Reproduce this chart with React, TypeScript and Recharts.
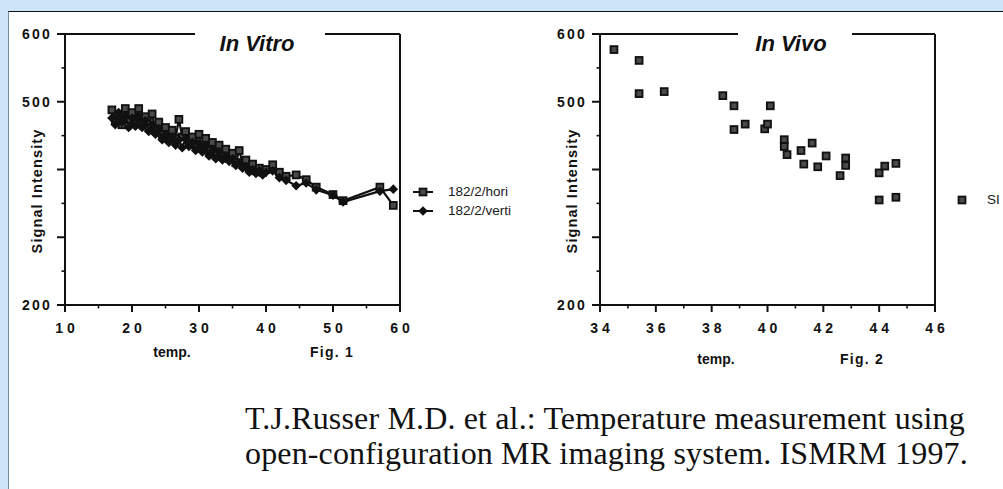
import React from "react";
import {
	Legend,
	ReferenceLine,
	Scatter,
	ScatterChart,
	XAxis,
	YAxis,
} from "recharts";

// Fig. 1 – in vitro, two probe orientations
const vitroTemps = [
	17, 17.5, 18, 18.5, 19, 19.5, 20, 20.5, 21, 21.5, 22, 22.5, 23, 23.5, 24,
	24.5, 25, 25.5, 26, 26.5, 27, 27.5, 28, 28.5, 29, 29.5, 30, 30.5, 31, 31.5,
	32, 32.5, 33, 33.5, 34, 34.5, 35, 35.5, 36, 36.5, 37, 37.5, 38, 38.5, 39,
	39.5, 40, 41, 42, 43, 44.5, 46, 47.5, 50, 51.5, 57, 59,
];
const vitroHori = [
	488, 472, 480, 466, 490, 474, 484, 468, 490, 470, 478, 462, 482, 458, 470,
	452, 462, 446, 458, 446, 474, 448, 456, 440, 448, 436, 452, 432, 446, 428,
	440, 424, 436, 420, 430, 416, 424, 410, 428, 410, 414, 402, 408, 398, 402,
	396, 400, 407, 396, 390, 392, 385, 374, 363, 354, 374, 347,
];
const vitroVerti = [
	476, 466, 484, 470, 478, 462, 476, 464, 480, 462, 472, 456, 466, 452, 460,
	444, 452, 440, 448, 436, 444, 432, 446, 434, 440, 428, 438, 426, 434, 420,
	428, 416, 426, 414, 420, 412, 416, 406, 410, 402, 404, 396, 400, 394, 398,
	392, 396, 398, 388, 384, 376, 380, 370, 362, 352, 368, 371,
];

// Fig. 2 – in vivo
const vivoTemps = [
	34.5, 35.4, 35.4, 36.3, 38.4, 38.8, 38.8, 39.2, 39.9, 40.0, 40.1, 40.6, 40.6,
	40.7, 41.2, 41.3, 41.6, 41.8, 42.1, 42.6, 42.8, 42.8, 44.0, 44.0, 44.2, 44.6,
	44.6,
];
const vivoSI = [
	577, 561, 512, 515, 509, 494, 459, 467, 460, 467, 494, 444, 434, 422, 428,
	408, 439, 404, 420, 391, 417, 406, 395, 355, 405, 409, 359,
];

const siTicks = [200, 250, 300, 350, 400, 450, 500, 550, 600];
const siLabelled = [200, 500, 600];
const vitroTicks = [10, 15, 20, 25, 30, 35, 40, 45, 50, 55, 60];
const vivoTicks = [34, 35, 36, 37, 38, 39, 40, 41, 42, 43, 44, 45, 46];

const horiData = vitroTemps.map((t, i) => ({ t, v: vitroHori[i] }));
const vertiData = vitroTemps.map((t, i) => ({ t, v: vitroVerti[i] }));
const vivoData = vivoTemps.map((t, i) => ({ t, v: vivoSI[i] }));

const INK = "#111";
const SANS = "'Liberation Sans', Arial, sans-serif";

const squareShape = (p: any) => (
	<rect
		x={p.cx - 3.4}
		y={p.cy - 3.4}
		width={6.8}
		height={6.8}
		fill="#4a4a4a"
		stroke={INK}
		strokeWidth={1.9}
	/>
);
const diamondShape = (p: any) => (
	<path
		d={`M${p.cx},${p.cy - 4.8}L${p.cx + 4.8},${p.cy}L${p.cx},${p.cy + 4.8}L${p.cx - 4.8},${p.cy}Z`}
		fill={INK}
	/>
);

const xTick = (isMajor: (v: number) => boolean) => (p: any) => {
	const v = p.payload.value;
	const major = isMajor(v);
	return (
		<g>
			<line
				x1={p.x}
				x2={p.x}
				y1={p.y}
				y2={p.y + (major ? 7 : 3.5)}
				stroke={INK}
				strokeWidth={major ? 2 : 1.6}
			/>
			{major && (
				<text
					x={p.x + 2}
					y={p.y + 28}
					textAnchor="middle"
					fontFamily={SANS}
					fontWeight="bold"
					fontSize={14}
					letterSpacing={4}
					fill={INK}
				>
					{v}
				</text>
			)}
		</g>
	);
};

const yTick = (p: any) => {
	const v = p.payload.value;
	const major = v % 100 === 0;
	return (
		<g>
			<line
				x1={p.x - (major ? 8 : 3.5)}
				x2={p.x}
				y1={p.y}
				y2={p.y}
				stroke={INK}
				strokeWidth={major ? 2 : 1.6}
			/>
			{siLabelled.includes(v) && (
				<text
					x={p.x - 13}
					y={p.y + 5}
					textAnchor="end"
					fontFamily={SANS}
					fontWeight="bold"
					fontSize={14}
					letterSpacing={2.2}
					fill={INK}
				>
					{v}
				</text>
			)}
		</g>
	);
};

const yLabel = (props: any) => {
	const { x, y } = props.viewBox;
	const cx = x + 22;
	const cy = y + 157;
	return (
		<text
			x={cx}
			y={cy}
			transform={`rotate(-90 ${cx} ${cy})`}
			textAnchor="middle"
			dominantBaseline="central"
			fontFamily={SANS}
			fontWeight="bold"
			fontSize={14.5}
			letterSpacing={1.1}
			fill={INK}
		>
			Signal Intensity
		</text>
	);
};

const titleLabel =
	(text: string, gapFrom: number, gapTo: number, textAt: number) =>
	(props: any) => {
		const { x, y } = props.viewBox;
		return (
			<g>
				<rect
					x={x + gapFrom}
					y={y - 4}
					width={gapTo - gapFrom}
					height={8}
					fill="#fff"
				/>
				<text
					x={x + textAt}
					y={y + 17}
					textAnchor="middle"
					fontFamily={SANS}
					fontWeight="bold"
					fontStyle="italic"
					fontSize={22}
					fill={INK}
				>
					{text}
				</text>
			</g>
		);
	};

type LegendItem = { name: string; marker: "square" | "diamond"; line: boolean };

const legendBox = (items: LegendItem[]) => () => (
	<div style={{ fontFamily: SANS, fontSize: 13.5, color: "#1a1a1a" }}>
		{items.map((it) => (
			<div
				key={it.name}
				style={{ display: "flex", alignItems: "center", height: 19 }}
			>
				<svg width={28} height={12} style={{ display: "block" }}>
					{it.line && (
						<line x1={5} x2={25} y1={6} y2={6} stroke={INK} strokeWidth={2} />
					)}
					{it.marker === "square"
						? squareShape({ cx: 15, cy: 6 })
						: diamondShape({ cx: 15, cy: 6 })}
				</svg>
				<span style={{ marginLeft: 12, whiteSpace: "nowrap" }}>{it.name}</span>
			</div>
		))}
	</div>
);

const vitroLegend: LegendItem[] = [
	{ name: "182/2/hori", marker: "square", line: true },
	{ name: "182/2/verti", marker: "diamond", line: true },
];
const vivoLegend: LegendItem[] = [{ name: "SI", marker: "square", line: false }];

const axisLine = { stroke: INK, strokeWidth: 2 };
const seriesLine = { stroke: INK, strokeWidth: 2.2 };

export default function App() {
	return (
		<div
			style={{
				position: "absolute",
				left: 0,
				top: 0,
				width: 1003,
				height: 489,
				background: "#cce6f7",
				overflow: "hidden",
			}}
		>
			<div
				style={{
					position: "absolute",
					left: 8,
					top: 11,
					right: 0,
					bottom: 0,
					background: "#fff",
					borderTop: "1.5px solid #111",
					borderLeft: "1.5px solid #6d8ea3",
				}}
			/>
			<svg
				width={1003}
				height={489}
				style={{ position: "absolute", left: 0, top: 0 }}
			>
				<g fontFamily={SANS} fontWeight="bold" fontSize={14} fill={INK}>
					<text x={172} y={357} textAnchor="middle">
						temp.
					</text>
					<text x={332} y={357} textAnchor="middle" letterSpacing={1.2}>
						Fig. 1
					</text>
					<text x={716} y={364} textAnchor="middle">
						temp.
					</text>
					<text x={862} y={364} textAnchor="middle" letterSpacing={1.2}>
						Fig. 2
					</text>
				</g>
				<g
					fontFamily="'Liberation Serif', 'Times New Roman', serif"
					fontSize={32}
					letterSpacing={0.15}
					fill={INK}
				>
					<text x={245} y={429}>
						T.J.Russer M.D. et al.: Temperature measurement using
					</text>
					<text x={245} y={464}>
						open-configuration MR imaging system. ISMRM 1997.
					</text>
				</g>
			</svg>

			<div style={{ position: "absolute", left: 0, top: 0 }}>
				<ScatterChart
					width={520}
					height={380}
					margin={{ top: 34, right: 120, bottom: 45, left: 15 }}
				>
					<XAxis
						type="number"
						dataKey="t"
						domain={[10, 60]}
						ticks={vitroTicks}
						interval={0}
						tickSize={0}
						tickMargin={0}
						tickLine={false}
						axisLine={axisLine}
						height={30}
						tick={xTick((v) => v % 10 === 0)}
					/>
					<YAxis
						type="number"
						dataKey="v"
						domain={[200, 600]}
						ticks={siTicks}
						interval={0}
						tickSize={0}
						tickMargin={0}
						tickLine={false}
						axisLine={axisLine}
						width={50}
						tick={yTick}
						label={yLabel}
					/>
					<ReferenceLine
						y={600}
						stroke={INK}
						strokeWidth={2}
						label={titleLabel("In Vitro", 130, 260, 192)}
					/>
					<ReferenceLine x={60} stroke={INK} strokeWidth={2} />
					<Legend
						layout="vertical"
						align="center"
						verticalAlign="middle"
						wrapperStyle={{ left: 408, top: 182, width: 120 }}
						content={legendBox(vitroLegend)}
					/>
					<Scatter
						name="182/2/hori"
						data={horiData}
						shape={squareShape}
						line={seriesLine}
						isAnimationActive={false}
					/>
					<Scatter
						name="182/2/verti"
						data={vertiData}
						shape={diamondShape}
						line={seriesLine}
						isAnimationActive={false}
					/>
				</ScatterChart>
			</div>

			<div style={{ position: "absolute", left: 500, top: 0 }}>
				<ScatterChart
					width={503}
					height={380}
					margin={{ top: 34, right: 68, bottom: 45, left: 50 }}
				>
					<XAxis
						type="number"
						dataKey="t"
						domain={[34, 46]}
						ticks={vivoTicks}
						interval={0}
						tickSize={0}
						tickMargin={0}
						tickLine={false}
						axisLine={axisLine}
						height={30}
						tick={xTick((v) => v % 2 === 0)}
					/>
					<YAxis
						type="number"
						dataKey="v"
						domain={[200, 600]}
						ticks={siTicks}
						interval={0}
						tickSize={0}
						tickMargin={0}
						tickLine={false}
						axisLine={axisLine}
						width={50}
						tick={yTick}
						label={yLabel}
					/>
					<ReferenceLine
						y={600}
						stroke={INK}
						strokeWidth={2}
						label={titleLabel("In Vivo", 138, 252, 191)}
					/>
					<ReferenceLine x={46} stroke={INK} strokeWidth={2} />
					<Legend
						layout="vertical"
						align="center"
						verticalAlign="middle"
						wrapperStyle={{ left: 447, top: 190, width: 60 }}
						content={legendBox(vivoLegend)}
					/>
					<Scatter
						name="SI"
						data={vivoData}
						shape={squareShape}
						isAnimationActive={false}
					/>
				</ScatterChart>
			</div>
		</div>
	);
}
